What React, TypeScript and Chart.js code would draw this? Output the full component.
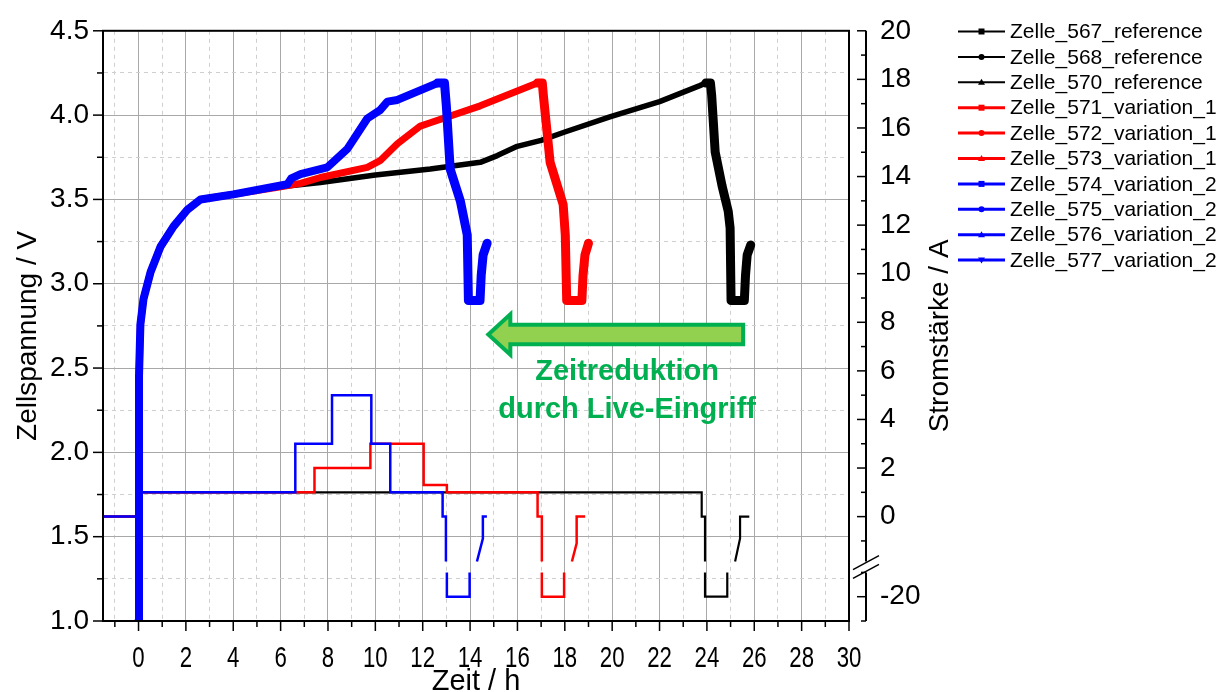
import React, { useEffect, useRef } from 'react';
import { Chart, registerables } from 'chart.js';

Chart.register(...registerables);

// ---------------- data ----------------
const cellNames = [
  'Zelle_567_reference',
  'Zelle_568_reference',
  'Zelle_570_reference',
  'Zelle_571_variation_1',
  'Zelle_572_variation_1',
  'Zelle_573_variation_1',
  'Zelle_574_variation_2',
  'Zelle_575_variation_2',
  'Zelle_576_variation_2',
  'Zelle_577_variation_2',
];
const cellGroup = [0, 0, 0, 1, 1, 1, 2, 2, 2, 2];
const cellMarker = ['rect', 'circle', 'triangle', 'rect', 'circle', 'triangle', 'rect', 'circle', 'triangle', 'triangleDown'];
const groupColors = ['#000000', '#ff0000', '#0000ff'];

const xTickLabels = [0, 2, 4, 6, 8, 10, 12, 14, 16, 18, 20, 22, 24, 26, 28, 30];
const voltageTickLabels = [1.0, 1.5, 2.0, 2.5, 3.0, 3.5, 4.0, 4.5];
const currentTickLabels = [20, 18, 16, 14, 12, 10, 8, 6, 4, 2, 0, -20];

// voltage (V) over time (h)
const refTime = [0, 0.02, 0.08, 0.21, 0.51, 0.93, 1.48, 2.07, 2.62, 4.0, 6.0, 7.68, 10.0, 12.32, 14.43, 15.15, 15.99, 17.0, 18.0, 19.9, 22.0, 23.7, 23.95, 24.15, 24.2, 24.35, 24.64, 24.9, 24.98, 25.02, 25.58, 25.63, 25.7, 25.85];
const refVoltage = [1.0, 2.45, 2.76, 2.91, 3.07, 3.22, 3.34, 3.44, 3.5, 3.53, 3.575, 3.6, 3.645, 3.68, 3.72, 3.76, 3.815, 3.85, 3.9, 3.99, 4.08, 4.175, 4.19, 4.19, 4.12, 3.78, 3.58, 3.43, 3.33, 2.9, 2.9, 3.05, 3.17, 3.23];

const var1Time = [0, 0.02, 0.08, 0.21, 0.51, 0.93, 1.48, 2.07, 2.62, 4.0, 6.0, 6.84, 7.68, 9.66, 10.2, 10.93, 11.9, 12.32, 14.43, 16.84, 17.05, 17.1, 17.38, 17.93, 18.02, 18.08, 18.72, 18.77, 18.85, 19.0];
const var1Voltage = [1.0, 2.45, 2.76, 2.91, 3.07, 3.22, 3.34, 3.44, 3.5, 3.53, 3.575, 3.595, 3.63, 3.69, 3.73, 3.83, 3.935, 3.955, 4.055, 4.19, 4.19, 4.11, 3.72, 3.47, 3.29, 2.9, 2.9, 3.05, 3.17, 3.24];

const var2Time = [0, 0.02, 0.08, 0.21, 0.51, 0.93, 1.48, 2.07, 2.62, 4.0, 6.29, 6.45, 6.84, 7.97, 8.82, 9.66, 10.2, 10.51, 10.93, 12.62, 12.92, 13.0, 13.16, 13.59, 13.88, 13.93, 14.42, 14.47, 14.55, 14.72];
const var2Voltage = [1.0, 2.45, 2.76, 2.91, 3.07, 3.22, 3.34, 3.44, 3.5, 3.53, 3.59, 3.625, 3.65, 3.69, 3.8, 3.98, 4.03, 4.08, 4.09, 4.19, 4.19, 4.05, 3.68, 3.49, 3.29, 2.9, 2.9, 3.05, 3.17, 3.24];

// current (A) over time (h); null = axis break
const refCurrentTime = [-1.5, 0, 0, 23.78, 23.78, 23.92, 23.92, 23.92, 23.92, 23.92, 24.86, 24.86, 24.86, 25.19, 25.4, 25.4, 25.79];
const refCurrent = [0, 0, 1, 1, 0, 0, -1.85, null, -19, -20, -20, -19, null, -1.85, -0.9, 0, 0];

const var1CurrentTime = [-1.5, 0, 0, 7.43, 7.43, 9.79, 9.79, 12.04, 12.04, 13.02, 13.02, 16.85, 16.85, 17.03, 17.03, 17.03, 17.03, 17.03, 17.97, 17.97, 17.97, 18.3, 18.5, 18.5, 18.86];
const var1Current = [0, 0, 1, 1, 2, 2, 3, 3, 1.3, 1.3, 1, 1, 0, 0, -1.85, null, -19, -20, -20, -19, null, -1.85, -1.1, 0, 0];

const var2CurrentTime = [-1.5, 0, 0, 6.62, 6.62, 8.17, 8.17, 9.83, 9.83, 10.63, 10.63, 12.84, 12.84, 12.98, 12.98, 12.98, 13.02, 13.02, 13.98, 13.98, 13.98, 14.29, 14.54, 14.54, 14.71];
const var2Current = [0, 0, 1, 1, 3, 3, 5, 5, 3, 3, 1, 1, 0, 0, -1.85, null, -19, -20, -20, -19, null, -1.85, -0.9, 0, 0];

const annotationLines = ['Zeitreduktion', 'durch Live-Eingriff'];

// ---------------- layout / style ----------------
const W = 1223;
const H = 692;
const FONT = '"Liberation Sans", Arial, sans-serif';
const GRID_MAJOR = '#a8a8a8';
const GRID_MINOR = '#cfcfcf';

// broken current axis: upper part -1.85..20 A, lower part -21..-19 A
const CUR_TOP = 20;
const CUR_BOTTOM = -21;
const CUR_UPPER_MIN = -1.85;
const CUR_LOWER_MAX = -19;
const K = 0.14405; // V-axis units per A
const curToV = (I: number) => (I >= CUR_UPPER_MIN - 1e-9 ? 4.5 - (CUR_TOP - I) * K : 1.0 + (I - CUR_BOTTOM) * K);

const currentTickValues: number[] = [];
for (let I = CUR_TOP; I >= -1; I--) currentTickValues.push(I);
for (let I = CUR_LOWER_MAX; I >= CUR_BOTTOM; I--) currentTickValues.push(I);

const ARROW = { tipT: 14.77, headT: 15.7, tailT: 25.53, v: 2.699, bodyHalf: 0.058, headHalf: 0.12 };
const TEXT_POS = { t: 20.63, v1: 2.43, v2: 2.203 };

const near = (a: number, b: number) => Math.abs(a - b) < 1e-6;
const isMajorV = (v: number) => near(v * 2, Math.round(v * 2));
const isMajorT = (v: number) => near(((v % 2) + 2) % 2, 0);

function voltPoints(ts: number[], vs: number[]) {
  return ts.map((t, i) => ({ x: t, y: vs[i] }));
}
function curPoints(ts: number[], is: (number | null)[]) {
  return ts.map((t, i) => ({ x: t, y: is[i] === null ? null : curToV(is[i] as number) }));
}
function peakTime(ts: number[], vs: number[]) {
  let m = -Infinity;
  let at = 0;
  vs.forEach((v, i) => {
    if (v > m + 1e-9) {
      m = v;
      at = ts[i];
    }
  });
  return at;
}

function voltDataset(label: string, ts: number[], vs: number[], color: string, w: number) {
  const pk = peakTime(ts, vs);
  return {
    label,
    data: voltPoints(ts, vs),
    borderColor: color,
    backgroundColor: color,
    borderWidth: w,
    pointRadius: 0,
    tension: 0,
    borderJoinStyle: 'round',
    borderCapStyle: 'round',
    spanGaps: false,
    yAxisID: 'y',
    segment: {
      borderWidth: (c: any) => {
        if (near(c.p0.parsed.x, c.p1.parsed.x) && c.p0.parsed.x < 0.01) return 4;
        return c.p0.parsed.x >= pk - 1e-9 ? 9 : w;
      },
    },
  };
}
function curDataset(label: string, ts: number[], is: (number | null)[], color: string, w: number) {
  return {
    label,
    data: curPoints(ts, is),
    borderColor: color,
    backgroundColor: color,
    borderWidth: w,
    pointRadius: 0,
    tension: 0,
    spanGaps: false,
    yAxisID: 'yI',
  };
}

function drawMarker(ctx: CanvasRenderingContext2D, kind: string, x: number, y: number) {
  const s = 3;
  ctx.beginPath();
  if (kind === 'rect') ctx.rect(x - s, y - s, 2 * s, 2 * s);
  else if (kind === 'circle') ctx.arc(x, y, s, 0, Math.PI * 2);
  else if (kind === 'triangle') {
    ctx.moveTo(x, y - s - 0.5);
    ctx.lineTo(x + s + 0.5, y + s - 0.5);
    ctx.lineTo(x - s - 0.5, y + s - 0.5);
    ctx.closePath();
  } else {
    ctx.moveTo(x, y + s + 0.5);
    ctx.lineTo(x + s + 0.5, y - s + 0.5);
    ctx.lineTo(x - s - 0.5, y - s + 0.5);
    ctx.closePath();
  }
  ctx.fill();
}

const decorPlugin = {
  id: 'decor',
  afterDatasetsDraw(chart: any) {
    const { ctx } = chart;
    const xs = chart.scales.x;
    const ys = chart.scales.y;
    const px = (t: number) => xs.getPixelForValue(t);
    const py = (v: number) => ys.getPixelForValue(v);
    // arrow
    ctx.save();
    ctx.beginPath();
    ctx.moveTo(px(ARROW.tipT), py(ARROW.v));
    ctx.lineTo(px(ARROW.headT), py(ARROW.v + ARROW.headHalf));
    ctx.lineTo(px(ARROW.headT), py(ARROW.v + ARROW.bodyHalf));
    ctx.lineTo(px(ARROW.tailT), py(ARROW.v + ARROW.bodyHalf));
    ctx.lineTo(px(ARROW.tailT), py(ARROW.v - ARROW.bodyHalf));
    ctx.lineTo(px(ARROW.headT), py(ARROW.v - ARROW.bodyHalf));
    ctx.lineTo(px(ARROW.headT), py(ARROW.v - ARROW.headHalf));
    ctx.closePath();
    ctx.fillStyle = '#92d050';
    ctx.fill();
    ctx.lineWidth = 4;
    ctx.lineJoin = 'miter';
    ctx.strokeStyle = '#00b050';
    ctx.stroke();
    ctx.fillStyle = '#00b050';
    ctx.font = `bold 29px ${FONT}`;
    ctx.textAlign = 'center';
    ctx.textBaseline = 'alphabetic';
    ctx.fillText(annotationLines[0], px(TEXT_POS.t), py(TEXT_POS.v1));
    ctx.fillText(annotationLines[1], px(TEXT_POS.t), py(TEXT_POS.v2));
    ctx.restore();
  },
  afterDraw(chart: any) {
    const { ctx, chartArea } = chart;
    const xs = chart.scales.x;
    const ys = chart.scales.y;
    const yi = chart.scales.yI;
    ctx.save();
    ctx.strokeStyle = '#000';
    ctx.fillStyle = '#000';
    // frame
    ctx.lineWidth = 2;
    ctx.strokeRect(chartArea.left, chartArea.top, chartArea.right - chartArea.left, chartArea.bottom - chartArea.top);
    // left ticks
    ctx.lineWidth = 1.5;
    ys.ticks.forEach((tk: any) => {
      const y = ys.getPixelForValue(tk.value);
      const len = isMajorV(tk.value) ? 10 : 6;
      ctx.beginPath();
      ctx.moveTo(chartArea.left, y);
      ctx.lineTo(chartArea.left - len, y);
      ctx.stroke();
    });
    // bottom ticks
    xs.ticks.forEach((tk: any) => {
      const x = xs.getPixelForValue(tk.value);
      const len = isMajorT(tk.value) ? 10 : 6;
      ctx.beginPath();
      ctx.moveTo(x, chartArea.bottom);
      ctx.lineTo(x, chartArea.bottom + len);
      ctx.stroke();
    });
    // bottom tick labels (condensed, like the original)
    ctx.font = `30px ${FONT}`;
    ctx.textAlign = 'center';
    ctx.textBaseline = 'alphabetic';
    xTickLabels.forEach((v) => {
      ctx.save();
      ctx.translate(xs.getPixelForValue(v), chartArea.bottom + 46);
      ctx.scale(0.74, 1);
      ctx.fillText(String(v), 0, 0);
      ctx.restore();
    });
    // right (current) axis with break
    const ax = yi.left;
    const yTop = yi.getPixelForValue(curToV(CUR_TOP));
    const yUp = yi.getPixelForValue(curToV(CUR_UPPER_MIN));
    const yLo = yi.getPixelForValue(curToV(CUR_LOWER_MAX));
    const yBot = yi.getPixelForValue(curToV(CUR_BOTTOM));
    ctx.lineWidth = 2;
    ctx.beginPath();
    ctx.moveTo(ax, yTop);
    ctx.lineTo(ax, yUp);
    ctx.moveTo(ax, yLo);
    ctx.lineTo(ax, yBot);
    ctx.stroke();
    ctx.lineWidth = 1.5;
    [yUp + 1, yLo - 1].forEach((yc) => {
      ctx.beginPath();
      ctx.moveTo(ax - 13, yc + 7);
      ctx.lineTo(ax + 13, yc - 7);
      ctx.stroke();
    });
    currentTickValues.forEach((I) => {
      const y = yi.getPixelForValue(curToV(I));
      const len = currentTickLabels.includes(I) ? 9 : 5;
      ctx.beginPath();
      ctx.moveTo(ax, y);
      ctx.lineTo(ax - len, y);
      ctx.stroke();
    });
    // axis titles (vertical)
    ctx.font = `28px ${FONT}`;
    ctx.textAlign = 'center';
    ctx.textBaseline = 'middle';
    const midY = (chartArea.top + chartArea.bottom) / 2 + 10;
    ctx.save();
    ctx.translate(28, midY);
    ctx.rotate(-Math.PI / 2);
    ctx.fillText('Zellspannung / V', 0, 0);
    ctx.restore();
    ctx.save();
    ctx.translate(ax + 74, midY);
    ctx.rotate(-Math.PI / 2);
    ctx.fillText('Stromstärke / A', 0, 0);
    ctx.restore();
    // legend
    const lx0 = 958;
    const lx1 = 1005;
    const ly0 = 31.5;
    const ldy = 25.4;
    ctx.font = `21px ${FONT}`;
    ctx.textAlign = 'left';
    ctx.textBaseline = 'middle';
    cellNames.forEach((name, i) => {
      const y = ly0 + i * ldy;
      const color = groupColors[cellGroup[i]];
      ctx.strokeStyle = color;
      ctx.fillStyle = color;
      ctx.lineWidth = cellGroup[i] === 0 ? 2 : 3;
      ctx.beginPath();
      ctx.moveTo(lx0, y);
      ctx.lineTo(lx1, y);
      ctx.stroke();
      drawMarker(ctx, cellMarker[i], (lx0 + lx1) / 2, y);
      ctx.fillStyle = '#000';
      ctx.fillText(name, lx1 + 5, y + 1);
    });
    ctx.restore();
  },
};

export default function App() {
  const ref = useRef<HTMLCanvasElement>(null);
  useEffect(() => {
    document.body.style.margin = '0';
    const datasets: any[] = [
      voltDataset('variation_2 U', var2Time, var2Voltage, groupColors[2], 8),
      voltDataset('variation_1 U', var1Time, var1Voltage, groupColors[1], 7),
      voltDataset('reference U', refTime, refVoltage, groupColors[0], 5.5),
      curDataset('variation_2 I', var2CurrentTime, var2Current, groupColors[2], 2.5),
      curDataset('variation_1 I', var1CurrentTime, var1Current, groupColors[1], 2.5),
      curDataset('reference I', refCurrentTime, refCurrent, groupColors[0], 2.2),
    ];
    const gridColor = (c: any, major: (v: number) => boolean) => (c.tick && major(c.tick.value) ? GRID_MAJOR : GRID_MINOR);
    const dash = (c: any, major: (v: number) => boolean) => (c.tick && !major(c.tick.value) ? [4, 4] : []);
    const chart = new Chart(ref.current as HTMLCanvasElement, {
      type: 'line',
      data: { datasets },
      plugins: [decorPlugin],
      options: {
        responsive: false,
        animation: false,
        layout: { padding: { top: 21, left: 0, right: 0, bottom: 0 } },
        plugins: { legend: { display: false }, tooltip: { enabled: false } },
        scales: {
          x: {
            type: 'linear',
            position: 'bottom',
            min: -1.5,
            max: 30,
            afterBuildTicks: (s: any) => {
              const t: any[] = [];
              for (let v = -1; v <= 30; v++) t.push({ value: v });
              s.ticks = t;
            },
            afterFit: (s: any) => {
              s.height = H - 621;
            },
            ticks: { display: false },
            grid: { color: (c: any) => gridColor(c, isMajorT), lineWidth: 1, drawTicks: false },
            border: { display: true, color: '#000', width: 2, dash: (c: any) => dash(c, isMajorT) },
            title: {
              display: true,
              text: 'Zeit / h',
              color: '#000',
              font: { family: FONT, size: 29, lineHeight: 1 },
              padding: { top: 0, bottom: -4 },
            },
          },
          y: {
            type: 'linear',
            position: 'left',
            min: 1,
            max: 4.5,
            afterBuildTicks: (s: any) => {
              const t: any[] = [];
              for (let i = 0; i <= 14; i++) t.push({ value: 1 + i * 0.25 });
              s.ticks = t;
            },
            afterFit: (s: any) => {
              s.width = 103;
            },
            ticks: {
              autoSkip: false,
              padding: 14,
              color: '#000',
              font: { family: FONT, size: 28 },
              callback: (v: any) => {
                const m = voltageTickLabels.find((l) => near(l, v));
                return m === undefined ? '' : m.toFixed(1);
              },
            },
            grid: { color: (c: any) => gridColor(c, isMajorV), lineWidth: 1, drawTicks: false },
            border: { display: true, color: '#000', width: 2, dash: (c: any) => dash(c, isMajorV) },
          },
          yGap: {
            type: 'linear',
            position: 'right',
            min: 1,
            max: 4.5,
            ticks: { display: false },
            grid: { display: false },
            border: { display: false },
            afterFit: (s: any) => {
              s.width = 17;
            },
          },
          yI: {
            type: 'linear',
            position: 'right',
            min: 1,
            max: 4.5,
            afterBuildTicks: (s: any) => {
              s.ticks = currentTickValues.map((I) => ({ value: curToV(I) })).sort((a, b) => a.value - b.value);
            },
            afterFit: (s: any) => {
              s.width = W - 849 - 17;
            },
            ticks: {
              autoSkip: false,
              padding: 14,
              color: '#000',
              font: { family: FONT, size: 28 },
              callback: (v: any) => {
                const I = currentTickValues.find((c) => near(curToV(c), v));
                return I !== undefined && currentTickLabels.includes(I) ? String(I) : '';
              },
            },
            grid: { display: true, drawOnChartArea: false, drawTicks: false },
            border: { display: false },
          },
        },
      } as any,
    });
    return () => chart.destroy();
  }, []);
  return (
    <div style={{ width: W, height: H }}>
      <canvas ref={ref} width={W} height={H} style={{ width: W, height: H, display: 'block' }} />
    </div>
  );
}
